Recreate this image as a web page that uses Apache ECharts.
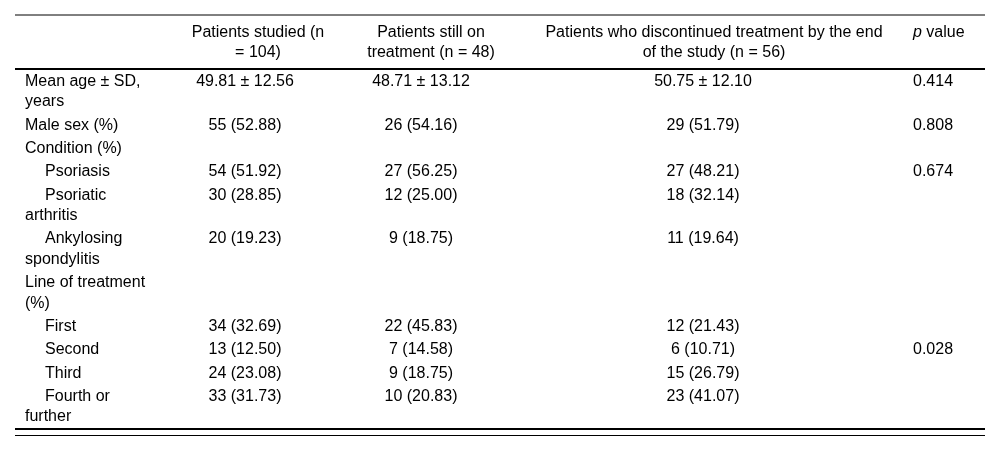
<!DOCTYPE html>
<html lang="en">
<head>
    <meta charset="UTF-8">
    <title>Patient characteristics</title>
    <script src="https://cdn.jsdelivr.net/npm/echarts@6/dist/echarts.min.js"></script>
    <style>
        html, body { margin: 0; padding: 0; background: #fff; }
        #chart { width: 1000px; height: 451px; }
    </style>
</head>
<body>
    <div id="chart"></div>

    <script>
        // table content
        const headers = [
            '',
            'Patients studied (n\n= 104)',
            'Patients still on\ntreatment (n = 48)',
            'Patients who discontinued treatment by the end\nof the study (n = 56)',
            '{i|p} value'
        ];
        const rowLabels = [
            'Mean age ± SD,\nyears',
            'Male sex (%)',
            'Condition (%)',
            'Psoriasis',
            'Psoriatic\narthritis',
            'Ankylosing\nspondylitis',
            'Line of treatment\n(%)',
            'First',
            'Second',
            'Third',
            'Fourth or\nfurther'
        ];
        const subRow = [false, false, false, true, true, true, false, true, true, true, true];
        const studied = ['49.81 ± 12.56', '55 (52.88)', '', '54 (51.92)', '30 (28.85)', '20 (19.23)', '', '34 (32.69)', '13 (12.50)', '24 (23.08)', '33 (31.73)'];
        const stillOn = ['48.71 ± 13.12', '26 (54.16)', '', '27 (56.25)', '12 (25.00)', '9 (18.75)', '', '22 (45.83)', '7 (14.58)', '9 (18.75)', '10 (20.83)'];
        const discontinued = ['50.75 ± 12.10', '29 (51.79)', '', '27 (48.21)', '18 (32.14)', '11 (19.64)', '', '12 (21.43)', '6 (10.71)', '15 (26.79)', '23 (41.07)'];
        const pValues = ['0.414', '0.808', '', '0.674', '', '', '', '', '0.028', '', ''];

        // layout
        const FONT = "'Liberation Sans', Arial, Helvetica, sans-serif";
        const FONT_SIZE = 16;
        const headX = [25, 258, 431, 714, 913];
        const bodyX = [25, 245, 421, 703, 913];
        const colAlign = ['left', 'center', 'center', 'center', 'left'];
        const indentX = 45;
        const headLineY = [33, 53];
        const firstRowY = 81.5, rowStep = 23.3, lineStep = 20.5;
        const ruleLeft = 15, ruleRight = 985;

        // line centre of every row
        const rowY = [];
        let cursor = firstRowY;
        rowLabels.forEach(label => {
            rowY.push(cursor);
            cursor += rowStep + (label.split('\n').length - 1) * lineStep;
        });
        const lastLineY = rowY[rowY.length - 1] + (rowLabels[rowLabels.length - 1].split('\n').length - 1) * lineStep;
        const rules = [
            { y: 15, w: 1 },
            { y: 69, w: 2 },
            { y: lastLineY + 12, w: 2 },
            { y: lastLineY + 18.5, w: 1 }
        ];

        // flatten into text items
        const cells = [];
        headers.forEach((h, c) => {
            h.split('\n').forEach((line, k) => {
                if (line) cells.push({ x: headX[c], y: headLineY[k], text: line, align: colAlign[c] });
            });
        });
        const columns = [rowLabels, studied, stillOn, discontinued, pValues];
        columns.forEach((col, c) => {
            col.forEach((val, r) => {
                if (!val) return;
                val.split('\n').forEach((line, k) => {
                    let x = bodyX[c];
                    if (c === 0 && subRow[r] && k === 0) x = indentX;
                    cells.push({ x: x, y: rowY[r] + k * lineStep, text: line, align: colAlign[c] });
                });
            });
        });

        const chart = echarts.init(document.getElementById('chart'));
        chart.setOption({
            animation: false,
            grid: { left: 0, right: 0, top: 0, bottom: 0 },
            xAxis: { type: 'value', min: 0, max: 1000, show: false },
            yAxis: { type: 'value', min: 0, max: 451, inverse: true, show: false },
            series: [
                {
                    type: 'custom',
                    silent: true,
                    clip: false,
                    data: rules.map(r => [r.y, r.w]),
                    renderItem: function (params, api) {
                        const a = api.coord([ruleLeft, api.value(0)]);
                        const b = api.coord([ruleRight, api.value(0)]);
                        return {
                            type: 'line',
                            shape: { x1: a[0], y1: a[1], x2: b[0], y2: b[1] },
                            style: { stroke: '#000', lineWidth: api.value(1) }
                        };
                    }
                },
                {
                    type: 'custom',
                    silent: true,
                    clip: false,
                    data: cells.map(d => [d.x, d.y]),
                    renderItem: function (params, api) {
                        const d = cells[params.dataIndex];
                        const p = api.coord([api.value(0), api.value(1)]);
                        return {
                            type: 'text',
                            x: p[0],
                            y: p[1],
                            style: {
                                text: d.text,
                                fill: '#000',
                                fontSize: FONT_SIZE,
                                fontFamily: FONT,
                                align: d.align,
                                verticalAlign: 'middle',
                                rich: {
                                    i: { fontStyle: 'italic', fontSize: FONT_SIZE, fontFamily: FONT, fill: '#000' }
                                }
                            }
                        };
                    }
                }
            ]
        });
    </script>
</body>
</html>
